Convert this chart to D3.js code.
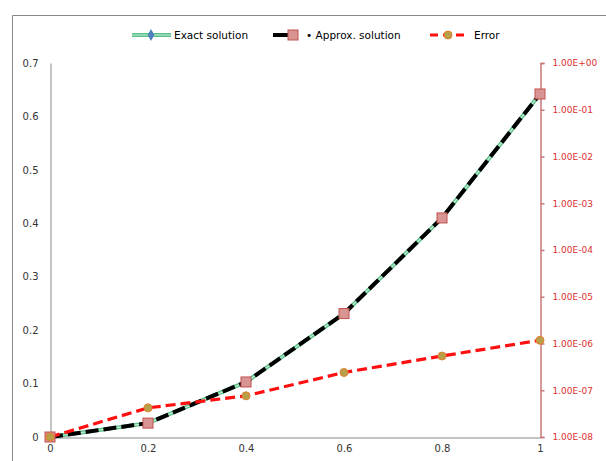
<!DOCTYPE html>
<html>
<head>
<meta charset="utf-8">
<script src="https://cdn.jsdelivr.net/npm/d3@7"></script>
<style>
  body { margin: 0; background: #fff; }
  text { font-family: "DejaVu Sans", Verdana, sans-serif; }
</style>
</head>
<body>
<div id="chart"></div>
<script>
let width = 606,
height = 461;

// data
let xs = [0, 0.2, 0.4, 0.6, 0.8, 1];
let exact = [0, 0.026, 0.103, 0.231, 0.41, 0.642];
let approx = [0, 0.026, 0.103, 0.231, 0.41, 0.642];
let error = [1e-8, 4.2e-8, 7.6e-8, 2.4e-7, 5.4e-7, 1.17e-6];
let leftTicks = [0, 0.1, 0.2, 0.3, 0.4, 0.5, 0.6, 0.7];
let rightTicks = [1e-8, 1e-7, 1e-6, 1e-5, 1e-4, 1e-3, 1e-2, 1e-1, 1];
let xTicks = [0, 0.2, 0.4, 0.6, 0.8, 1];

let svg = d3.select("#chart")
.append("svg")
.attr("width", width)
.attr("height", height);

// chart border
svg.append("path")
.attr("d", "M12.5," + (height + 2) + "V15.5H" + (width + 2))
.attr("fill", "none")
.attr("stroke", "#888")
.attr("stroke-width", 1);

let x = d3.scaleLinear().domain([0, 1]).range([50, 540]);
let y = d3.scaleLinear().domain([0, 0.7]).range([437, 63]);
let yLog = d3.scaleLog().domain([1e-8, 1]).range([437, 63]);

// left axis
let gl = svg.append("g").attr("transform", "translate(50.5,0)")
.call(d3.axisLeft(y).tickValues(leftTicks).tickSize(0).tickPadding(12)
  .tickFormat(d => d === 0 ? "0" : d3.format(".1f")(d)));
gl.select(".domain").attr("stroke", "#888");
gl.selectAll("text").attr("fill", "#333").style("font-size", "10px");

// bottom axis
let gb = svg.append("g").attr("transform", "translate(0,437.5)")
.call(d3.axisBottom(x).tickValues(xTicks).tickSize(0).tickPadding(7)
  .tickFormat(d => d === 0 || d === 1 ? d3.format("d")(d) : d3.format(".1f")(d)));
gb.select(".domain").attr("stroke", "#888");
gb.selectAll("text").attr("fill", "#333").style("font-size", "10px");

// right log axis
let gr = svg.append("g").attr("transform", "translate(540.5,0)")
.call(d3.axisRight(yLog).tickValues(rightTicks).tickSize(4).tickPadding(8)
  .tickFormat(d => {
    let e = Math.round(Math.log10(d));
    return "1.00E" + (e < 0 ? "-" : "+") + String(Math.abs(e)).padStart(2, "0");
  }));
gr.select(".domain").attr("stroke", "#c87878").attr("stroke-width", 1.5);
gr.selectAll(".tick line").attr("stroke", "#c87878").attr("stroke-width", 1.5);
gr.selectAll("text").attr("fill", "#e03030").style("font-size", "9px");

let pts = (vals, sc) => xs.map((d, i) => [x(d), sc(vals[i])]);
let line = d3.line();

// exact solution: double green line
svg.append("path").attr("d", line(pts(exact, y)))
.attr("fill", "none").attr("stroke", "#5cc08a").attr("stroke-width", 4);
svg.append("path").attr("d", line(pts(exact, y)))
.attr("fill", "none").attr("stroke", "#c8f0d8").attr("stroke-width", 1.2);

// approx solution: black dashes
svg.append("path").attr("d", line(pts(approx, y)))
.attr("fill", "none").attr("stroke", "#000").attr("stroke-width", 4)
.attr("stroke-dasharray", "13 5");

// error: red dashed on log scale
svg.append("path").attr("d", line(pts(error, yLog)))
.attr("fill", "none").attr("stroke", "#ff1010").attr("stroke-width", 3.2)
.attr("stroke-dasharray", "10 5");

// markers
svg.selectAll(".sq").data(pts(approx, y)).enter().append("rect")
.attr("x", d => d[0] - 5).attr("y", d => d[1] - 5)
.attr("width", 10).attr("height", 10)
.attr("fill", "#d99594").attr("stroke", "#c0504d").attr("stroke-width", 1);

svg.selectAll(".ci").data(pts(error, yLog)).enter().append("circle")
.attr("cx", d => d[0]).attr("cy", d => d[1]).attr("r", 4)
.attr("fill", "#b8a048").attr("stroke", "#e08030").attr("stroke-width", 1);

// legend
let lg = svg.append("g").attr("transform", "translate(0,35)");
lg.append("line").attr("x1", 132).attr("x2", 171).attr("stroke", "#5cc08a").attr("stroke-width", 4);
lg.append("line").attr("x1", 132).attr("x2", 171).attr("stroke", "#c8f0d8").attr("stroke-width", 1.2);
lg.append("path").attr("d", d3.symbol(d3.symbolDiamond, 40)()).attr("transform", "translate(151,0)")
.attr("fill", "#4f81bd");
lg.append("text").attr("x", 174).attr("dy", "0.35em").text("Exact solution")
.style("font-size", "10.5px").attr("fill", "#000");

lg.append("line").attr("x1", 273).attr("x2", 296).attr("stroke", "#000").attr("stroke-width", 4);
lg.append("rect").attr("x", 288).attr("y", -5).attr("width", 10).attr("height", 10)
.attr("fill", "#d99594").attr("stroke", "#c0504d");
lg.append("text").attr("x", 306).attr("dy", "0.35em").text("• Approx. solution")
.style("font-size", "10.5px").attr("fill", "#000");

lg.append("line").attr("x1", 430).attr("x2", 466).attr("stroke", "#ff1010").attr("stroke-width", 3.2)
.attr("stroke-dasharray", "8 5");
lg.append("circle").attr("cx", 448).attr("r", 4).attr("fill", "#b8a048").attr("stroke", "#e08030");
lg.append("text").attr("x", 474).attr("dy", "0.35em").text("Error")
.style("font-size", "10.5px").attr("fill", "#000");
</script>
</body>
</html>
